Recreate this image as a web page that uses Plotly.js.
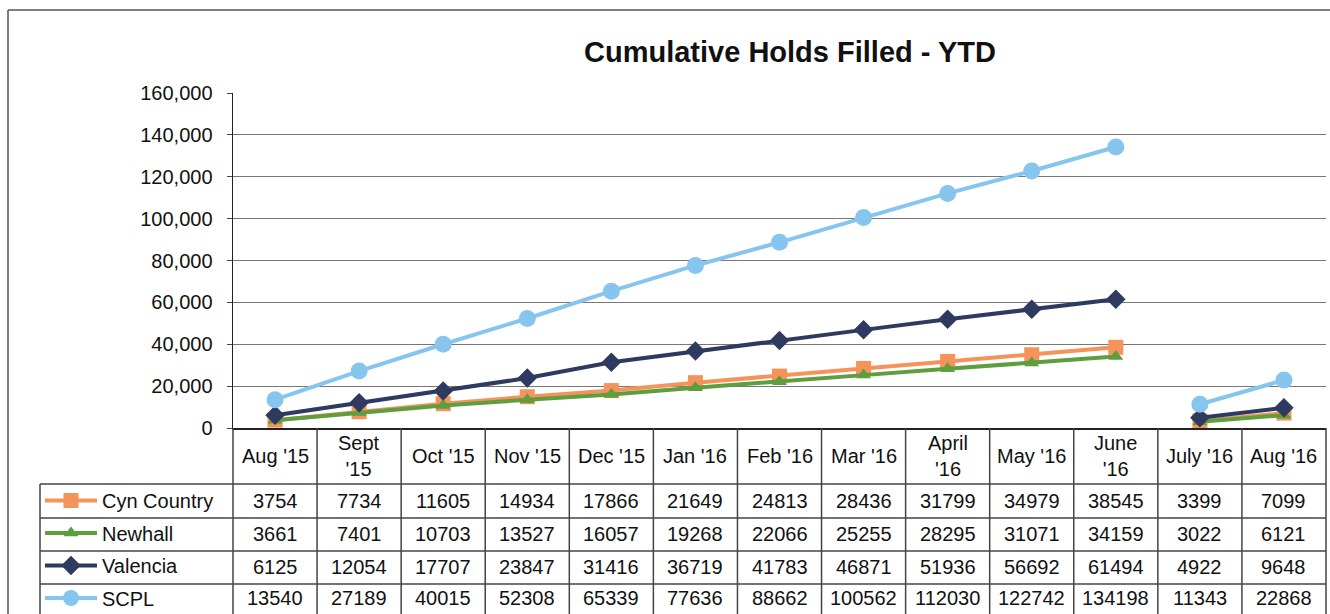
<!DOCTYPE html>
<html>
<head>
<meta charset="utf-8">
<script src="https://cdn.plot.ly/plotly-3.0.1.min.js"></script>
<style>
  html, body { margin:0; padding:0; background:#fff; }
  #chart { width:1330px; height:614px; }
</style>
</head>
<body>
<div id="chart"></div>
<script>
// Cumulative holds filled, fiscal year to date (new FY starts in July '16)
const months = ["Aug '15", "Sept<br>'15", "Oct '15", "Nov '15", "Dec '15", "Jan '16", "Feb '16",
                "Mar '16", "April<br>'16", "May '16", "June<br>'16", "July '16", "Aug '16"];

const cynCountry = [3754, 7734, 11605, 14934, 17866, 21649, 24813, 28436, 31799, 34979, 38545, 3399, 7099];
const newhall    = [3661, 7401, 10703, 13527, 16057, 19268, 22066, 25255, 28295, 31071, 34159, 3022, 6121];
const valencia   = [6125, 12054, 17707, 23847, 31416, 36719, 41783, 46871, 51936, 56692, 61494, 4922, 9648];
const scpl       = [13540, 27189, 40015, 52308, 65339, 77636, 88662, 100562, 112030, 122742, 134198, 11343, 22868];

const seriesNames = ['Cyn Country', 'Newhall', 'Valencia', 'SCPL'];
const seriesData  = [cynCountry, newhall, valencia, scpl];
const fyStart = 11; // index of July '16, where the line restarts

const yTicks = [0, 20000, 40000, 60000, 80000, 100000, 120000, 140000, 160000];

// styles
const colors  = ['#F4935A', '#5E9E3F', '#2E3A60', '#86C5EE'];
const symbols = ['square', 'triangle-up', 'diamond', 'circle'];
const msizes  = [15, 13, 15, 17];

const FONT = 'Liberation Sans, Arial, sans-serif';
const W = 1330, H = 614;
const L = 233, R = 1326, T = 93, B = 428;   // plot area in px

// px -> paper helpers (layout only)
const px = p => (p - L) / (R - L);
const py = p => (B - p) / (B - T);

const idx = months.map((m, i) => i);

const traces = [];
seriesNames.forEach((name, s) => {
  const ys = seriesData[s];
  const common = {
    type: 'scatter',
    mode: 'lines+markers',
    legendgroup: name,
    line: {color: colors[s], width: 4},
    marker: {symbol: symbols[s], size: msizes[s], color: colors[s]},
    hoverinfo: 'skip'
  };
  traces.push(Object.assign({}, common, {
    name: name, x: idx.slice(0, fyStart), y: ys.slice(0, fyStart), showlegend: true
  }));
  traces.push(Object.assign({}, common, {
    name: name, x: idx.slice(fyStart), y: ys.slice(fyStart), showlegend: false
  }));
});

// data table: rows
const headerY = py(456);
const rowEdges = [484, 518, 551, 584];
const rowCenters = [501, 534, 567, 598];

const annotations = [];
months.forEach((m, i) => {
  annotations.push({
    x: i, xref: 'x', y: headerY, yref: 'paper', text: m, showarrow: false,
    font: {family: FONT, size: 20, color: '#111'}, xanchor: 'center', yanchor: 'middle'
  });
});
seriesData.forEach((ys, s) => {
  ys.forEach((v, i) => {
    annotations.push({
      x: i, xref: 'x', y: py(rowCenters[s]), yref: 'paper', text: String(v), showarrow: false,
      font: {family: FONT, size: 20, color: '#111'}, xanchor: 'center', yanchor: 'middle'
    });
  });
});

const gridCol = '#444';
const shapes = [];
// outer chart border
shapes.push({type: 'line', xref: 'paper', yref: 'paper', x0: px(8), x1: px(8), y0: py(10), y1: py(620),
  line: {color: '#555', width: 1.5}});
shapes.push({type: 'line', xref: 'paper', yref: 'paper', x0: px(8), x1: px(1330), y0: py(10), y1: py(10),
  line: {color: '#555', width: 1.5}});
// table horizontal lines
rowEdges.forEach(p => {
  shapes.push({type: 'line', xref: 'paper', yref: 'paper', x0: px(40), x1: 1, y0: py(p), y1: py(p),
    line: {color: gridCol, width: 1.5}});
});
// left border of legend column
shapes.push({type: 'line', xref: 'paper', yref: 'paper', x0: px(40), x1: px(40), y0: py(484), y1: py(620),
  line: {color: gridCol, width: 1.5}});
// column separators
for (let k = 0; k <= months.length; k++) {
  shapes.push({type: 'line', xref: 'paper', yref: 'paper', x0: k / months.length, x1: k / months.length,
    y0: 0, y1: py(620), line: {color: gridCol, width: 1.5}});
}

const layout = {
  width: W, height: H,
  margin: {l: L, r: W - R, t: T, b: H - B, pad: 0, autoexpand: false},
  paper_bgcolor: '#fff', plot_bgcolor: '#fff',
  showlegend: true,
  title: {
    text: '<b>Cumulative Holds Filled - YTD</b>',
    font: {family: FONT, size: 29, color: '#111'},
    x: 790 / W, xref: 'container', xanchor: 'center',
    y: 1 - 52 / H, yref: 'container', yanchor: 'middle'
  },
  xaxis: {
    range: [-0.5, months.length - 0.5],
    showticklabels: false, showgrid: false, zeroline: false,
    showline: true, linecolor: '#222', linewidth: 1.5, ticks: ''
  },
  yaxis: {
    range: [0, 160000], tickvals: yTicks, tickformat: ',d',
    ticks: 'outside', ticklen: 5, tickcolor: '#444', ticklabelstandoff: 10,
    showline: true, linecolor: '#222', linewidth: 1.5,
    showgrid: true, gridcolor: '#777', gridwidth: 1.2, zeroline: false,
    tickfont: {family: FONT, size: 20, color: '#111'}
  },
  legend: {
    x: px(40), xanchor: 'left', y: py(481), yanchor: 'top',
    orientation: 'v', traceorder: 'grouped', tracegroupgap: 3.5,
    itemwidth: 52, bgcolor: 'rgba(0,0,0,0)', borderwidth: 0,
    font: {family: FONT, size: 20, color: '#111'}
  },
  shapes: shapes,
  annotations: annotations
};

Plotly.newPlot('chart', traces, layout, {displayModeBar: false, staticPlot: true});
</script>
</body>
</html>
